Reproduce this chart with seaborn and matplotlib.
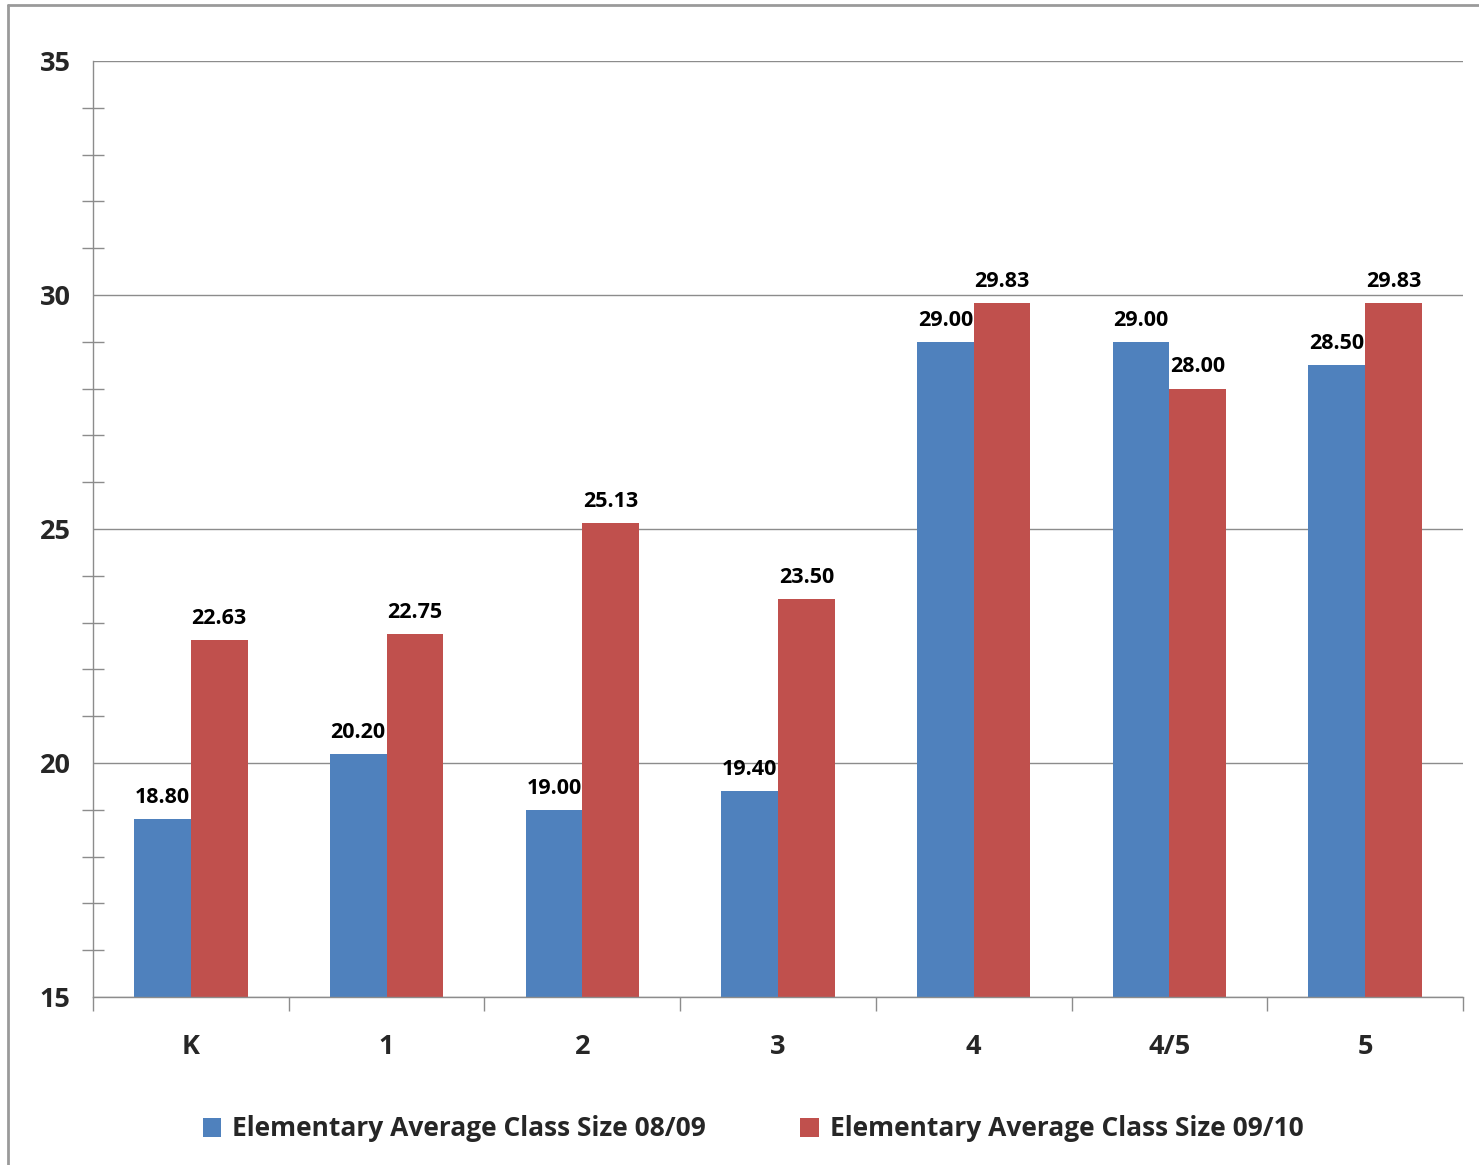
import matplotlib
matplotlib.use("Agg")
import matplotlib.pyplot as plt
from matplotlib.lines import Line2D
from matplotlib.ticker import MultipleLocator, FixedLocator, NullFormatter
import seaborn as sns
import pandas as pd

grades = ["K", "1", "2", "3", "4", "4/5", "5"]
series_names = ["Elementary Average Class Size 08/09", "Elementary Average Class Size 09/10"]
size_0809 = [18.80, 20.20, 19.00, 19.40, 29.00, 29.00, 28.50]
size_0910 = [22.63, 22.75, 25.13, 23.50, 29.83, 28.00, 29.83]
colors = ["#4F81BD", "#C0504D"]

df = pd.DataFrame({
    "grade": grades * 2,
    "series": [series_names[0]] * len(grades) + [series_names[1]] * len(grades),
    "value": size_0809 + size_0910,
})

sns.set_theme(style="white")
FAM = ["Open Sans", "DejaVu Sans"]
plt.rcParams["font.family"] = FAM
plt.rcParams["font.weight"] = "bold"

fig = plt.figure(figsize=(14.79, 11.65), dpi=100)
ax = fig.add_axes([93/1479, 1 - 997/1165, (1463-93)/1479, (997-61)/1165])

sns.barplot(data=df, x="grade", y="value", hue="series", order=grades,
            hue_order=series_names, palette=colors, width=0.58, saturation=1,
            ax=ax, legend=True, linewidth=0)

ax.set_ylim(15, 35)
ax.set_xlim(-0.5, len(grades) - 0.5)
ax.yaxis.set_major_locator(MultipleLocator(5))
ax.yaxis.set_minor_locator(MultipleLocator(1))
ax.grid(axis="y", which="major", color="#8c8c8c", linewidth=1)
ax.set_axisbelow(True)

for c in ax.containers:
    ax.bar_label(c, fmt="%.2f", padding=8, fontsize=15.5, fontweight="bold",
                 family=FAM, color="black")

ax.set_xlabel("")
ax.set_ylabel("")
for s in ["top", "right"]:
    ax.spines[s].set_visible(False)
for s in ["left", "bottom"]:
    ax.spines[s].set_color("#8c8c8c")
    ax.spines[s].set_linewidth(1)

ax.tick_params(axis="y", which="major", direction="inout", length=16, width=1,
               color="#8c8c8c", pad=8)
ax.tick_params(axis="y", which="minor", direction="inout", length=16, width=1,
               color="#8c8c8c", left=True)
ax.tick_params(axis="x", which="major", length=0, pad=27)
ax.xaxis.set_minor_locator(FixedLocator([i - 0.5 for i in range(len(grades) + 1)]))
ax.xaxis.set_minor_formatter(NullFormatter())
ax.tick_params(axis="x", which="minor", direction="out", length=10, width=1,
               color="#8c8c8c", bottom=True)
for lbl in ax.get_xticklabels() + ax.get_yticklabels():
    lbl.set_fontweight("bold")
    lbl.set_fontsize(19.5)
    lbl.set_family(FAM)

handles, labels = ax.get_legend_handles_labels()
ax.get_legend().remove()
fig.legend(handles, labels, loc="center", bbox_to_anchor=(753/1479, 1 - 1129/1165),
           ncol=2, frameon=False, handlelength=0.7, handleheight=0.7,
           handletextpad=0.4, columnspacing=3.6,
           prop={"weight": "bold", "size": 19, "family": FAM})

# outer chart frame (top and left visible)
fig.add_artist(Line2D([8/1479, 1.0], [1 - 5/1165, 1 - 5/1165], transform=fig.transFigure,
                      color="#9a9a9a", linewidth=2))
fig.add_artist(Line2D([8/1479, 8/1479], [0, 1 - 5/1165], transform=fig.transFigure,
                      color="#9a9a9a", linewidth=2))

fig.savefig("out.png", dpi=100)
